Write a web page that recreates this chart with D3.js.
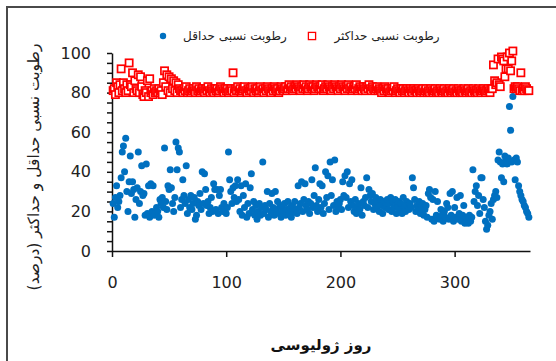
<!DOCTYPE html>
<html>
<head>
<meta charset="utf-8">
<script src="https://cdn.jsdelivr.net/npm/d3@7"></script>
<style>
  body { margin: 0; background: #fff; }
  svg { display: block; }
</style>
</head>
<body>
<div class="chart"></div>
<script>

// julian day 1..365
var days = d3.range(1, 366);

// relative humidity minimum (blue dots)
var minRH = [
  24, 17, 27, 33, 22, 25, 28, 37, 50, 53,
  40, 57, 30, 20, 35, 48, 29, 35, 31, 17,
  26, 32, 50, 24, 30, 43, 28, 29, 18, 44,
  19, 33, 17, 34, 20, 33, 18, 19, 22, 20,
  17, 26, 24, 27, 22, 52, 25, 21, 33, 31,
  41, 32, 24, 20, 27, 55, 41, 52, 50, 22,
  26, 36, 28, 24, 43, 19, 26, 22, 28, 21,
  24, 27, 16, 18, 25, 23, 29, 21, 40, 24,
  39, 31, 23, 25, 19, 22, 27, 20, 34, 31,
  21, 31, 19, 28, 31, 22, 20, 24, 21, 19,
  22, 50, 36, 30, 24, 32, 27, 33, 25, 36,
  26, 20, 33, 18, 28, 22, 34, 17, 24, 19,
  32, 39, 21, 25, 18, 23, 16, 20, 24, 18,
  22, 45, 19, 23, 21, 30, 17, 24, 20, 29,
  22, 18, 30, 21, 25, 19, 23, 17, 22, 20,
  24, 18, 21, 25, 19, 22, 17, 23, 20, 25,
  21, 19, 33, 22, 24, 35, 20, 26, 34, 23,
  21, 25, 19, 24, 36, 22, 28, 42, 23, 20,
  26, 34, 22, 33, 19, 24, 40, 27, 38, 21,
  45, 28, 36, 23, 46, 20, 25, 22, 24, 26,
  21, 35, 28, 38, 27, 40, 22, 34, 25, 36,
  23, 20, 26, 19, 22, 24, 21, 32, 18, 25,
  23, 27, 37, 22, 31, 28, 25, 29, 21, 24,
  27, 22, 25, 20, 26, 23, 19, 25, 22, 24,
  26, 21, 24, 27, 20, 25, 22, 26, 19, 23,
  25, 21, 24, 19, 27, 22, 20, 25, 23, 21,
  24, 22, 37, 32, 26, 20, 23, 21, 25, 19,
  22, 24, 18, 21, 23, 17, 29, 31, 27, 16,
  26, 15, 30, 18, 25, 17, 16, 21, 18, 15,
  20, 17, 24, 22, 16, 29, 18, 30, 15, 22,
  17, 27, 16, 19, 28, 15, 18, 23, 14, 17,
  16, 14, 18, 15, 17, 41, 25, 30, 33, 23,
  28, 19, 37, 37, 26, 22, 15, 11, 13, 18,
  20, 24, 16, 26, 28, 30, 27, 46, 50, 45,
  37, 44, 35, 48, 46, 44, 47, 73, 61, 45,
  78, 46, 36, 47, 45, 33, 30, 28, 26, 25,
  23, 22, 20, 19, 17
];

// relative humidity maximum (red squares)
var maxRH = [
  81, 82, 79, 85, 83, 80, 84, 92, 81, 85,
  82, 80, 84, 81, 95, 84, 83, 90, 80, 86,
  82, 81, 89, 80, 88, 83, 79, 78, 81, 80,
  86, 78, 87, 80, 81, 79, 82, 80, 81, 80,
  82, 80, 81, 79, 85, 91, 83, 89, 81, 88,
  80, 87, 82, 86, 81, 85, 80, 84, 82, 81,
  81, 80, 82, 81, 83, 80, 81, 82, 80, 81,
  82, 81, 80, 83, 81, 82, 80, 81, 82, 81,
  80, 82, 81, 83, 81, 80, 82, 81, 80, 82,
  81, 82, 80, 81, 83, 82, 81, 80, 82, 81,
  82, 80, 81, 82, 81, 90, 80, 82, 81, 83,
  81, 82, 80, 81, 82, 83, 81, 80, 82, 81,
  82, 81, 83, 80, 82, 81, 82, 80, 81, 83,
  81, 82, 80, 82, 81, 83, 82, 81, 80, 82,
  81, 83, 82, 81, 82, 80, 81, 83, 82, 81,
  82, 83, 81, 82, 84, 82, 83, 81, 82, 83,
  82, 84, 83, 82, 81, 83, 82, 84, 82, 83,
  81, 82, 84, 83, 82, 83, 81, 82, 84, 83,
  82, 83, 82, 84, 81, 82, 83, 82, 84, 83,
  82, 81, 83, 82, 84, 83, 82, 81, 83, 82,
  84, 83, 82, 81, 83, 82, 84, 82, 83, 81,
  82, 83, 82, 84, 81, 82, 83, 82, 81, 83,
  82, 81, 83, 82, 84, 82, 81, 83, 82, 81,
  82, 83, 81, 82, 81, 80, 82, 81, 83, 82,
  81, 82, 80, 81, 82, 81, 83, 80, 81, 82,
  81, 80, 82, 81, 82, 80, 81, 82, 81, 80,
  82, 81, 80, 82, 81, 81, 80, 82, 81, 80,
  81, 82, 80, 81, 82, 80, 81, 80, 82, 81,
  80, 81, 82, 80, 81, 80, 82, 81, 80, 81,
  82, 80, 81, 80, 82, 81, 80, 81, 82, 80,
  81, 80, 82, 81, 80, 81, 80, 82, 81, 80,
  81, 82, 80, 81, 80, 82, 81, 80, 81, 80,
  82, 81, 80, 81, 82, 81, 80, 81, 82, 81,
  80, 82, 82, 94, 86, 84, 85, 97, 84, 83,
  98, 97, 96, 88, 92, 98, 92, 100, 91, 96,
  101, 82, 83, 82, 83, 82, 81, 90, 81, 82,
  81, 83, 82, 81, 81
];

var xTicks = [0, 100, 200, 300];
var yTicks = d3.range(0, 101, 5);

var seriesNames = ["رطوبت نسبی حداقل", "رطوبت نسبی حداکثر"];
var yTitle = "رطوبت نسبی حداقل و حداکثر (درصد)";
var xTitle = "روز ژولیوسی";

var width = 556,
    height = 361;

var blue = "#0070c0",
    red = "#ff0000";

var svg = d3.select(".chart").append("svg")
    .attr("width", width)
    .attr("height", height);

// outer frame (only top and left edges fall inside the picture)
svg.append("rect")
    .attr("x", 7)
    .attr("y", 7)
    .attr("width", 700)
    .attr("height", 500)
    .attr("fill", "none")
    .attr("stroke", "#4a4a4a")
    .attr("stroke-width", 2);

var x = d3.scaleLinear().domain([0, 366]).range([112, 530]);
var y = d3.scaleLinear().domain([0, 100]).range([251, 53]);

// y axis, ticks every 5, labels every 20
svg.append("g")
    .attr("transform", "translate(" + x(0) + ",0)")
    .call(d3.axisLeft(y)
      .tickValues(yTicks)
      .tickSize(5)
      .tickSizeOuter(0)
      .tickPadding(16)
      .tickFormat(function(d) { return d % 20 === 0 ? d : ""; }));

// x axis
svg.append("g")
    .attr("transform", "translate(0," + y(0) + ")")
    .call(d3.axisBottom(x)
      .tickValues(xTicks)
      .tickSize(6)
      .tickSizeOuter(0)
      .tickPadding(20)
      .tickFormat(d3.format("d")));

svg.selectAll(".tick text")
    .attr("fill", "#222")
    .style("font-family", "'DejaVu Sans', sans-serif")
    .style("font-size", "16px");

svg.selectAll(".domain, .tick line")
    .attr("stroke", "#111")
    .attr("stroke-width", 1.5);

// min series first, max drawn on top
svg.append("g").selectAll("circle")
    .data(days)
  .enter().append("circle")
    .attr("cx", function(d) { return x(d); })
    .attr("cy", function(d, i) { return y(minRH[i]); })
    .attr("r", 3.5)
    .attr("fill", blue);

var sq = 7.2;
svg.append("g").selectAll("rect")
    .data(days)
  .enter().append("rect")
    .attr("x", function(d) { return x(d) - sq / 2; })
    .attr("y", function(d, i) { return y(maxRH[i]) - sq / 2; })
    .attr("width", sq)
    .attr("height", sq)
    .attr("fill", "#fff")
    .attr("stroke", red)
    .attr("stroke-width", 1.7);

// legend
var legend = svg.append("g")
    .style("font-family", "'DejaVu Sans', sans-serif")
    .style("font-size", "12px")
    .attr("fill", "#222");

legend.append("circle")
    .attr("cx", 163)
    .attr("cy", 36)
    .attr("r", 3.2)
    .attr("fill", blue);

legend.append("text")
    .attr("x", 235)
    .attr("y", 36)
    .attr("dy", "0.35em")
    .attr("text-anchor", "middle")
    .text(seriesNames[0]);

legend.append("rect")
    .attr("x", 312 - sq / 2)
    .attr("y", 36 - sq / 2)
    .attr("width", sq)
    .attr("height", sq)
    .attr("fill", "#fff")
    .attr("stroke", red)
    .attr("stroke-width", 1.3);

legend.append("text")
    .attr("x", 387)
    .attr("y", 36)
    .attr("dy", "0.35em")
    .attr("text-anchor", "middle")
    .text(seriesNames[1]);

// axis titles
svg.append("text")
    .attr("transform", "translate(34,167) rotate(-90)")
    .attr("text-anchor", "middle")
    .attr("dy", "0.35em")
    .attr("fill", "#222")
    .style("font-family", "'DejaVu Sans', sans-serif")
    .style("font-size", "15.5px")
    .text(yTitle);

svg.append("text")
    .attr("x", 321)
    .attr("y", 345)
    .attr("dy", "0.35em")
    .attr("text-anchor", "middle")
    .attr("fill", "#111")
    .style("font-family", "'DejaVu Sans', sans-serif")
    .style("font-size", "15px")
    .style("font-weight", "bold")
    .text(xTitle);

</script>
</body>
</html>
